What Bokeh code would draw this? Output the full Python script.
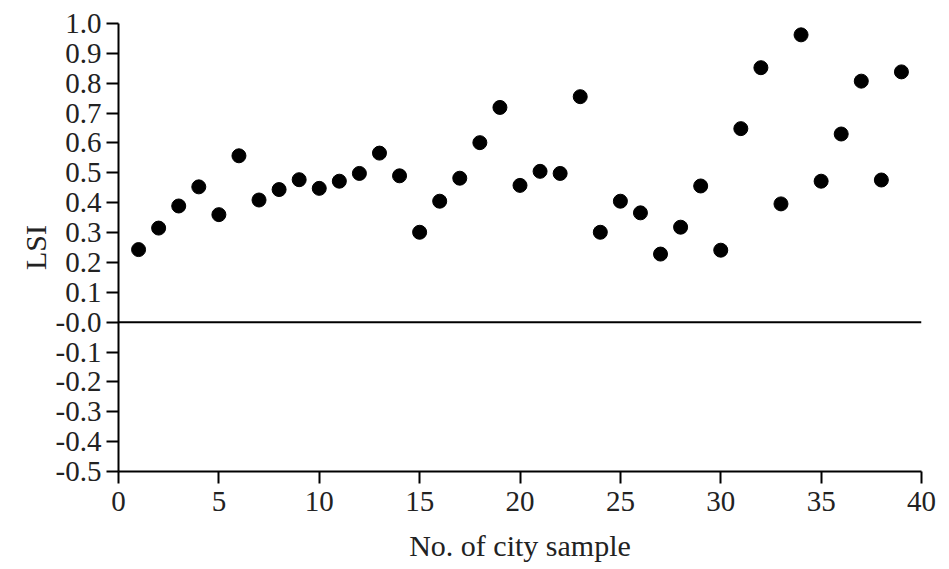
from bokeh.plotting import figure
from bokeh.models import Range1d, FixedTicker, CustomJSTickFormatter, Span, ColumnDataSource
from bokeh.embed import file_html
from bokeh.resources import INLINE

# Data
city_no = list(range(1, 40))
lsi = [0.243, 0.315, 0.389, 0.453, 0.360, 0.557, 0.409, 0.444, 0.477, 0.448,
       0.472, 0.498, 0.566, 0.490, 0.301, 0.405, 0.482, 0.601, 0.719, 0.458,
       0.505, 0.498, 0.755, 0.301, 0.405, 0.366, 0.228, 0.318, 0.456, 0.241,
       0.648, 0.852, 0.396, 0.962, 0.472, 0.630, 0.807, 0.476, 0.838]

x_ticks = [0, 5, 10, 15, 20, 25, 30, 35, 40]
y_ticks = [1.0, 0.9, 0.8, 0.7, 0.6, 0.5, 0.4, 0.3, 0.2, 0.1, 0.0,
           -0.1, -0.2, -0.3, -0.4, -0.5]
y_tick_labels = ["1.0", "0.9", "0.8", "0.7", "0.6", "0.5", "0.4", "0.3", "0.2", "0.1",
                 "-0.0", "-0.1", "-0.2", "-0.3", "-0.4", "-0.5"]

FONT = "Liberation Serif"

p = figure(width=949, height=569, output_backend="svg", toolbar_location=None,
           x_range=Range1d(0, 40), y_range=Range1d(-0.5, 1.0),
           min_border_left=118, min_border_right=28, min_border_top=23, min_border_bottom=98)
p.outline_line_color = None
p.xgrid.visible = False
p.ygrid.visible = False
p.background_fill_color = "white"

src = ColumnDataSource(dict(x=city_no, y=lsi))
p.scatter("x", "y", source=src, size=14, fill_color="black", line_color="black")

p.add_layout(Span(location=0, dimension="width", line_color="black", line_width=2))

for ax in (p.xaxis[0], p.yaxis[0]):
    ax.axis_line_color = "black"
    ax.axis_line_width = 2
    ax.major_tick_line_color = "black"
    ax.major_tick_line_width = 2
    ax.major_tick_in = 0
    ax.major_tick_out = 12
    ax.minor_tick_line_color = None
    ax.major_label_text_font = FONT
    ax.major_label_text_font_size = "29px"
    ax.major_label_text_color = "#222222"
    ax.axis_label_text_font = FONT
    ax.axis_label_text_font_size = "30px"
    ax.axis_label_text_font_style = "normal"
    ax.axis_label_text_color = "#222222"

p.xaxis.ticker = FixedTicker(ticks=x_ticks)
p.yaxis.ticker = FixedTicker(ticks=y_ticks)
p.yaxis.formatter = CustomJSTickFormatter(args=dict(tvals=y_ticks, tlabels=y_tick_labels), code="""
let best = 0, bd = 1e9;
for (let i = 0; i < tvals.length; i++) {
  const d = Math.abs(tvals[i] - tick);
  if (d < bd) { bd = d; best = i; }
}
return tlabels[best];
""")
p.xaxis.axis_label = "No. of city sample"
p.yaxis.axis_label = "LSI"
p.xaxis.major_label_standoff = 8
p.yaxis.major_label_standoff = 5
p.xaxis.axis_label_standoff = 15
p.yaxis.axis_label_standoff = 1

open("out.html", "w").write(file_html(p, INLINE))
